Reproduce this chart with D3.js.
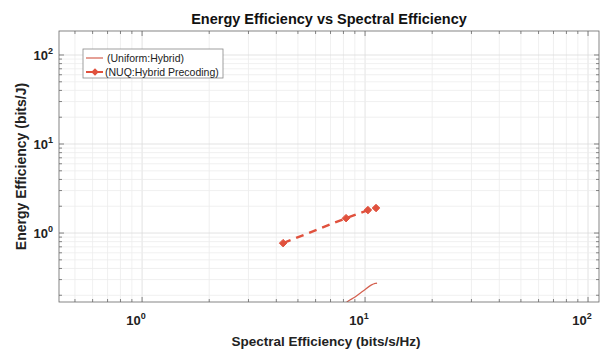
<!DOCTYPE html>
<html>
<head>
<meta charset="utf-8">
<style>
  body { margin: 0; background: #fff; }
  svg { font-family: "Liberation Sans", Arial, sans-serif; }
</style>
</head>
<body>
<svg width="605" height="351"></svg>
<script src="https://d3js.org/d3.v7.min.js"></script>
<script>

// data
var xLimits = [0.424, 112];
var yLimits = [0.168, 186];
var majorTicks = [1, 10, 100];

// (Uniform:Hybrid) - solid thin line, runs out of the bottom of the box
var uniformSE = [7.6, 8.30, 9.02, 9.80, 10.64, 11.1, 11.32];
var uniformEE = [0.13, 0.168, 0.191, 0.223, 0.26, 0.272, 0.274];

// (NUQ:Hybrid Precoding) - dashed line with diamonds
var nuqSE = [4.29, 8.22, 10.3, 11.2];
var nuqEE = [0.77, 1.47, 1.81, 1.91];

var seriesNames = ["(Uniform:Hybrid)", "(NUQ:Hybrid Precoding)"];
var lineColor = "#e0513d";

var svg = d3.select("svg");
var margin = {left: 59, right: 6, top: 31, bottom: 49};
var W = 605 - margin.left - margin.right,
    H = 351 - margin.top - margin.bottom;

var x = d3.scaleLog().domain(xLimits).range([0, W]);
var y = d3.scaleLog().domain(yLimits).range([H, 0]);

var g = svg.append("g").attr("transform", "translate(" + margin.left + "," + margin.top + ")");

// minor + major grid
function allTicks(dom) {
  var t = [];
  for (var e = -2; e <= 3; e++)
    for (var m = 1; m < 10; m++) {
      var v = m * Math.pow(10, e);
      if (v >= dom[0] && v <= dom[1]) t.push(v);
    }
  return t;
}
var xt = allTicks(xLimits), yt = allTicks(yLimits);

g.append("g").selectAll("line").data(xt).enter().append("line")
  .attr("x1", function(d) { return x(d); }).attr("x2", function(d) { return x(d); })
  .attr("y1", 0).attr("y2", H)
  .attr("stroke", function(d) { return majorTicks.indexOf(d) >= 0 ? "#dcdcdc" : "#ececec"; })
  .attr("stroke-width", 0.8);
g.append("g").selectAll("line").data(yt).enter().append("line")
  .attr("y1", function(d) { return y(d); }).attr("y2", function(d) { return y(d); })
  .attr("x1", 0).attr("x2", W)
  .attr("stroke", function(d) { return majorTicks.indexOf(d) >= 0 ? "#dcdcdc" : "#ececec"; })
  .attr("stroke-width", 0.8);

// ticks on all four sides, pointing inwards
function tickLen(d) { return majorTicks.indexOf(d) >= 0 ? 5 : 3; }
var tk = g.append("g").attr("stroke", "#555").attr("stroke-width", 0.7);
xt.forEach(function(d) {
  tk.append("line").attr("x1", x(d)).attr("x2", x(d)).attr("y1", H).attr("y2", H - tickLen(d));
  tk.append("line").attr("x1", x(d)).attr("x2", x(d)).attr("y1", 0).attr("y2", tickLen(d));
});
yt.forEach(function(d) {
  tk.append("line").attr("y1", y(d)).attr("y2", y(d)).attr("x1", 0).attr("x2", tickLen(d));
  tk.append("line").attr("y1", y(d)).attr("y2", y(d)).attr("x1", W).attr("x2", W - tickLen(d));
});

// tick labels with superscript exponent
function powLabel(sel, v) {
  var t = sel.append("text").attr("font-weight", "bold").attr("fill", "#222").attr("font-size", 13);
  t.append("tspan").text("10");
  t.append("tspan").attr("font-size", 9).attr("dy", -6).text(Math.round(Math.log10(v)));
  return t;
}
majorTicks.forEach(function(v) {
  powLabel(g, v).attr("x", x(v) - 6).attr("y", H + 23).attr("text-anchor", "middle");
  powLabel(g, v).attr("x", -6).attr("y", y(v) + 5).attr("text-anchor", "end");
});

// clip for data
svg.append("defs").append("clipPath").attr("id", "clip")
  .append("rect").attr("width", W).attr("height", H);
var plot = g.append("g").attr("clip-path", "url(#clip)");

var line = d3.line().x(function(d) { return x(d[0]); }).y(function(d) { return y(d[1]); })
  .curve(d3.curveMonotoneX);

plot.append("path").datum(d3.zip(uniformSE, uniformEE))
  .attr("d", line).attr("fill", "none").attr("stroke", "#d4604f").attr("stroke-width", 1.2);

plot.append("path").datum(d3.zip(nuqSE, nuqEE))
  .attr("d", d3.line().x(function(d) { return x(d[0]); }).y(function(d) { return y(d[1]); }))
  .attr("fill", "none").attr("stroke", lineColor).attr("stroke-width", 2.4)
  .attr("stroke-dasharray", "8,6");

var diamond = d3.symbol().type(d3.symbolDiamond2).size(36);
plot.selectAll(".mk").data(d3.zip(nuqSE, nuqEE)).enter().append("path")
  .attr("class", "mk")
  .attr("d", diamond)
  .attr("transform", function(d) { return "translate(" + x(d[0]) + "," + y(d[1]) + ")"; })
  .attr("fill", lineColor).attr("stroke", lineColor).attr("stroke-width", 1);

// box
g.append("rect").attr("width", W).attr("height", H).attr("fill", "none")
  .attr("stroke", "#666").attr("stroke-width", 0.8);

// legend
var lg = svg.append("g").attr("transform", "translate(83,49)");
lg.append("rect").attr("width", 140).attr("height", 29).attr("fill", "#fff")
  .attr("stroke", "#888").attr("stroke-width", 0.8);
lg.append("line").attr("x1", 3).attr("x2", 20).attr("y1", 9).attr("y2", 9)
  .attr("stroke", "#d4604f").attr("stroke-width", 1.2);
lg.append("line").attr("x1", 3).attr("x2", 22).attr("y1", 23).attr("y2", 23)
  .attr("stroke", lineColor).attr("stroke-width", 2).attr("stroke-dasharray", "7,3");
lg.append("path").attr("d", diamond).attr("transform", "translate(12,23)")
  .attr("fill", lineColor);
lg.selectAll("text.lt").data(seriesNames).enter().append("text")
  .attr("x", function(d, i) { return i === 0 ? 24 : 22; })
  .attr("y", function(d, i) { return 13 + i * 14; })
  .attr("font-size", 10.5).attr("fill", "#222").text(function(d) { return d; });

// titles
svg.append("text").attr("x", margin.left + W / 2).attr("y", 24).attr("text-anchor", "middle")
  .attr("font-weight", "bold").attr("font-size", 14.5).attr("fill", "#111")
  .text("Energy Efficiency vs Spectral Efficiency");
svg.append("text").attr("x", margin.left + W / 2 - 3).attr("y", 346).attr("text-anchor", "middle")
  .attr("font-weight", "bold").attr("font-size", 13.5).attr("fill", "#222")
  .text("Spectral Efficiency (bits/s/Hz)");
svg.append("text").attr("transform", "translate(26," + (margin.top + H / 2) + ") rotate(-90)")
  .attr("text-anchor", "middle")
  .attr("font-weight", "bold").attr("font-size", 14).attr("fill", "#222")
  .text("Energy Efficiency (bits/J)");

</script>
</body>
</html>
